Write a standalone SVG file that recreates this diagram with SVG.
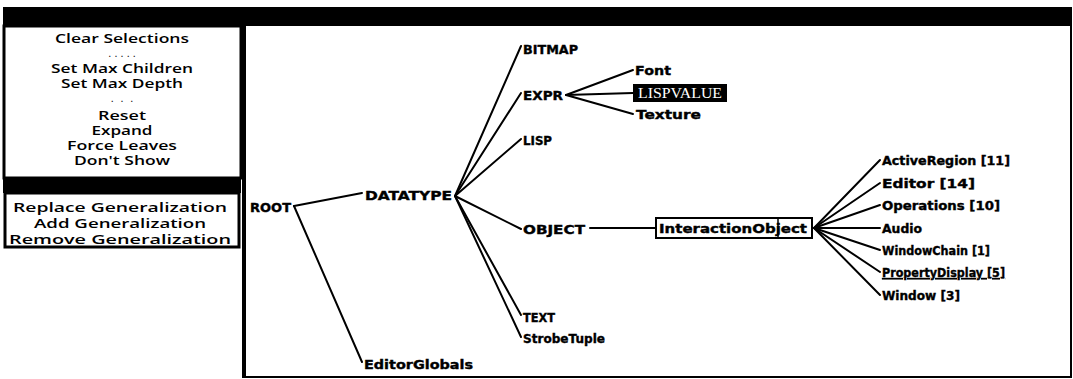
<svg xmlns="http://www.w3.org/2000/svg" width="1073" height="379" viewBox="0 0 1073 379">
<style>
.menu{font-family:"Open Sans","DejaVu Sans",sans-serif;font-weight:600;font-size:12.5px;fill:#000;text-anchor:middle}
.dots{font-family:"Open Sans","DejaVu Sans",sans-serif;font-weight:600;font-size:9px;fill:#000;text-anchor:middle}
.lbl{font-family:"DejaVu Sans","Liberation Sans",sans-serif;font-weight:bold;font-size:13px;fill:#000;stroke:#000;stroke-width:0.4}
.edge{stroke:#000;stroke-width:2;fill:none;stroke-linecap:round}
</style>
<rect x="0" y="0" width="1073" height="379" fill="#fff"/>
<!-- main window -->
<g id="window">
<rect x="244" y="25" width="827" height="352" fill="#fff" stroke="#000" stroke-width="2"/>
<line x1="244" y1="25" x2="244" y2="378" stroke="#000" stroke-width="4"/>
<rect x="3" y="7" width="1069" height="19" fill="#000"/>
</g>
<!-- menu -->
<g id="menu">
<rect x="4" y="26" width="237" height="152" fill="#fff" stroke="#000" stroke-width="3"/>
<text class="menu" x="122" y="43" textLength="134" lengthAdjust="spacingAndGlyphs">Clear Selections</text>
<text class="dots" x="122" y="57" textLength="27" lengthAdjust="spacing">.....</text>
<text class="menu" x="122" y="73" textLength="142" lengthAdjust="spacingAndGlyphs">Set Max Children</text>
<text class="menu" x="122" y="88" textLength="122" lengthAdjust="spacingAndGlyphs">Set Max Depth</text>
<text class="dots" x="122" y="102" textLength="22" lengthAdjust="spacing">. . .</text>
<text class="menu" x="122" y="120" textLength="48" lengthAdjust="spacingAndGlyphs">Reset</text>
<text class="menu" x="122" y="135" textLength="61" lengthAdjust="spacingAndGlyphs">Expand</text>
<text class="menu" x="122" y="150" textLength="110" lengthAdjust="spacingAndGlyphs">Force Leaves</text>
<text class="menu" x="122" y="165" textLength="96" lengthAdjust="spacingAndGlyphs">Don't Show</text>
<rect x="3" y="177" width="238" height="16" fill="#000"/>
<rect x="5" y="193" width="234" height="54" fill="#fff" stroke="#000" stroke-width="3"/>
<text class="menu" x="120" y="212" textLength="214" lengthAdjust="spacingAndGlyphs">Replace Generalization</text>
<text class="menu" x="120" y="228" textLength="172" lengthAdjust="spacingAndGlyphs">Add Generalization</text>
<text class="menu" x="120" y="244" textLength="222" lengthAdjust="spacingAndGlyphs">Remove Generalization</text>
</g>
<!-- connectors -->
<g id="connectors">
<line class="edge" x1="294" y1="206" x2="362" y2="193"/>
<line class="edge" x1="294" y1="206" x2="362" y2="362"/>
<line class="edge" x1="455" y1="196" x2="521" y2="46"/>
<line class="edge" x1="455" y1="196" x2="521" y2="93"/>
<line class="edge" x1="455" y1="196" x2="521" y2="139"/>
<line class="edge" x1="455" y1="196" x2="521" y2="229"/>
<line class="edge" x1="455" y1="196" x2="521" y2="315"/>
<line class="edge" x1="455" y1="196" x2="521" y2="337"/>
<line class="edge" x1="566" y1="95" x2="633" y2="70"/>
<line class="edge" x1="566" y1="95" x2="633" y2="93"/>
<line class="edge" x1="566" y1="95" x2="633" y2="114"/>
<line class="edge" x1="590" y1="228" x2="656" y2="228"/>
<line class="edge" x1="814" y1="228" x2="880" y2="160"/>
<line class="edge" x1="814" y1="228" x2="880" y2="183"/>
<line class="edge" x1="814" y1="228" x2="880" y2="205"/>
<line class="edge" x1="814" y1="228" x2="880" y2="228"/>
<line class="edge" x1="814" y1="228" x2="880" y2="250"/>
<line class="edge" x1="814" y1="228" x2="880" y2="272"/>
<line class="edge" x1="814" y1="228" x2="880" y2="295"/>
</g>
<!-- nodes -->
<g id="n-root"><text class="lbl" x="250" y="212" textLength="41" lengthAdjust="spacingAndGlyphs">ROOT</text></g>
<g id="n-datatype"><text class="lbl" x="365" y="200" textLength="87" lengthAdjust="spacingAndGlyphs">DATATYPE</text></g>
<g id="n-editorglobals"><text class="lbl" x="364" y="369" textLength="109" lengthAdjust="spacingAndGlyphs">EditorGlobals</text></g>
<g id="n-bitmap"><text class="lbl" x="523" y="54" textLength="55" lengthAdjust="spacingAndGlyphs">BITMAP</text></g>
<g id="n-expr"><text class="lbl" x="523" y="100" textLength="40" lengthAdjust="spacingAndGlyphs">EXPR</text></g>
<g id="n-lisp"><text class="lbl" x="523" y="145" textLength="29" lengthAdjust="spacingAndGlyphs">LISP</text></g>
<g id="n-object"><text class="lbl" x="523" y="234" textLength="62" lengthAdjust="spacingAndGlyphs">OBJECT</text></g>
<g id="n-text"><text class="lbl" x="523" y="322" textLength="32" lengthAdjust="spacingAndGlyphs">TEXT</text></g>
<g id="n-strobetuple"><text class="lbl" x="523" y="343" textLength="82" lengthAdjust="spacingAndGlyphs">StrobeTuple</text></g>
<g id="n-font"><text class="lbl" x="635" y="75" textLength="36" lengthAdjust="spacingAndGlyphs">Font</text></g>
<g id="n-lispvalue"><rect x="633" y="84" width="94" height="18" fill="#000"/><text x="680" y="98" text-anchor="middle" font-family="'Liberation Serif',serif" font-size="14" fill="#fff" textLength="84" lengthAdjust="spacingAndGlyphs">LISPVALUE</text></g>
<g id="n-texture"><text class="lbl" x="636" y="119" textLength="65" lengthAdjust="spacingAndGlyphs">Texture</text></g>
<g id="n-interactionobject"><rect x="656" y="218" width="156" height="20" fill="#fff" stroke="#000" stroke-width="2"/><line x1="778" y1="219" x2="778" y2="237" stroke="#000" stroke-width="1.5"/><text class="lbl" x="659" y="233" textLength="148" lengthAdjust="spacingAndGlyphs">InteractionObject</text></g>
<g id="n-activeregion"><text class="lbl" x="882" y="165" textLength="128" lengthAdjust="spacingAndGlyphs">ActiveRegion [11]</text></g>
<g id="n-editor"><text class="lbl" x="882" y="188" textLength="93" lengthAdjust="spacingAndGlyphs">Editor [14]</text></g>
<g id="n-operations"><text class="lbl" x="882" y="210" textLength="118" lengthAdjust="spacingAndGlyphs">Operations [10]</text></g>
<g id="n-audio"><text class="lbl" x="882" y="233" textLength="40" lengthAdjust="spacingAndGlyphs">Audio</text></g>
<g id="n-windowchain"><text class="lbl" x="882" y="255" textLength="108" lengthAdjust="spacingAndGlyphs">WindowChain [1]</text></g>
<g id="n-propertydisplay"><text class="lbl" x="882" y="277" textLength="123" lengthAdjust="spacingAndGlyphs" text-decoration="underline">PropertyDisplay [5]</text></g>
<g id="n-window"><text class="lbl" x="882" y="300" textLength="78" lengthAdjust="spacingAndGlyphs">Window [3]</text></g>
</svg>
